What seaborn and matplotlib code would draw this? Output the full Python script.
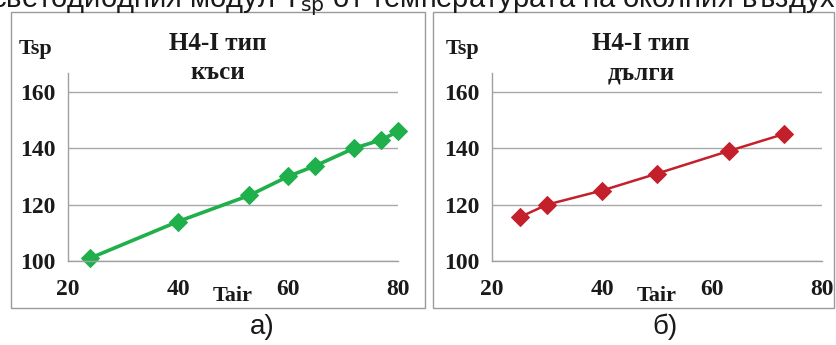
import matplotlib
matplotlib.use("Agg")
import matplotlib.pyplot as plt
import seaborn as sns
import pandas as pd
from matplotlib.patches import Rectangle

# short (къси) series
tair_short = [24, 40, 53, 60, 65, 72, 77, 80]
tsp_short = [101, 114, 123.3, 130, 133.8, 140, 143, 146]
# long (дълги) series
tair_long = [25, 30, 40, 50, 63, 73]
tsp_long = [115.5, 120, 125, 131, 139, 145]

titles = ["H4-I тип\nкъси", "H4-I тип\nдълги"]
captions = ["а)", "б)"]
colors = ["#1FAF4B", "#C4202B"]
xticks = [20, 40, 60, 80]
yticks = [100, 120, 140, 160]

sns.set_theme(style="white")
plt.rcParams["font.family"] = ["Liberation Serif", "DejaVu Serif"]

fig = plt.figure(figsize=(8.37, 3.45), dpi=100)
W, H = 837, 345

def fx(px):
    return px / W

def fy(py):
    return 1 - py / H

# frames around the two panels
for x0, x1 in [(11, 425), (433, 834)]:
    fig.patches.append(Rectangle((fx(x0), fy(308)), fx(x1 - x0), (308 - 12) / H,
                                 transform=fig.transFigure, fill=False,
                                 edgecolor="#9A9A9A", linewidth=1.0))

panels = [
    (tair_short, tsp_short, 68, 398),
    (tair_long, tsp_long, 492, 822),
]
df_list = [pd.DataFrame({"Tair": x, "Tsp": y}) for x, y, _, _ in panels]

for i, ((x, y, l, r), df) in enumerate(zip(panels, df_list)):
    ax = fig.add_axes([fx(l), fy(261), fx(r - l), (261 - 73) / H])
    sns.lineplot(data=df, x="Tair", y="Tsp", ax=ax, color=colors[i],
                 marker="D", markersize=9, markeredgecolor=colors[i],
                 linewidth=2.6 if i == 0 else 1.8, clip_on=False)
    ax.set_xlim(20, 80)
    ax.set_ylim(100, 166.7)
    ax.set_xticks(xticks)
    ax.set_yticks(yticks)
    ax.yaxis.grid(True, color="#A8A8A8", linewidth=1.0)
    ax.set_axisbelow(True)
    for s in ["top", "right"]:
        ax.spines[s].set_visible(False)
    for s in ["left", "bottom"]:
        ax.spines[s].set_color("#A0A0A0")
        ax.spines[s].set_linewidth(1.0)
    ax.tick_params(axis="both", direction="out", length=4, width=1.0,
                   color="#A0A0A0", labelsize=17, pad=5)
    ax.tick_params(axis="x", pad=9)
    for lab in ax.get_xticklabels() + ax.get_yticklabels():
        lab.set_fontweight("bold")
        lab.set_color("#1A1A1A")
    ax.set_xlabel("")
    ax.set_ylabel("")

# titles, axis names, captions
for cx, t in zip([218, 641], titles):
    fig.text(fx(cx), fy(58), t, ha="center", va="center", fontsize=18,
             fontweight="bold", color="#1A1A1A", linespacing=1.35)
for x0 in [19, 446]:
    fig.text(fx(x0), fy(49), "Tsp", ha="left", va="center", fontsize=16,
             fontweight="bold", color="#1A1A1A")
for cx in [233, 657]:
    fig.text(fx(cx), fy(296), "Tair", ha="center", va="center", fontsize=16,
             fontweight="bold", color="#1A1A1A")
for cx, c in zip([262, 665], captions):
    fig.text(fx(cx), fy(327), c, ha="center", va="center", fontsize=20,
             family=["Liberation Sans", "DejaVu Sans"], color="#1A1A1A")

fig.text(fx(-9), fy(7), "светодиодния модул T$_{\\rm sp}$ от температурата на околния въздух",
         ha="left", va="baseline", fontsize=21,
         family=["Liberation Sans", "DejaVu Sans"], color="#1A1A1A")

fig.savefig("out.png", dpi=100)
